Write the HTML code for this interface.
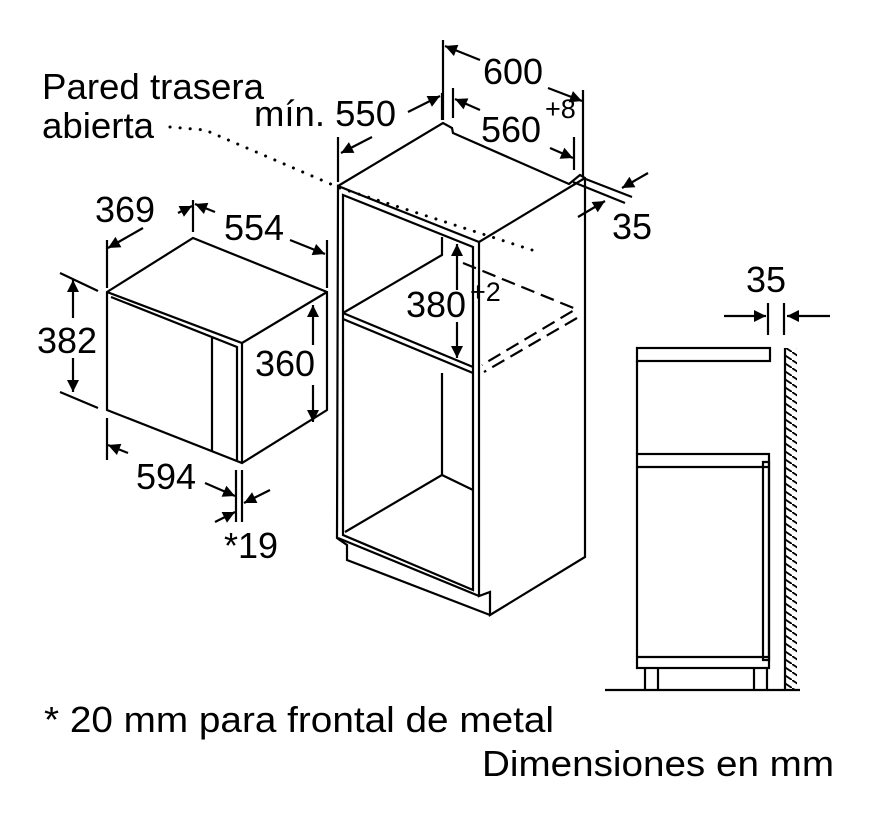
<!DOCTYPE html>
<html><head><meta charset="utf-8"><style>
html,body{margin:0;padding:0;background:#fff;}
svg{display:block;}
text{font-family:"Liberation Sans",Arial,sans-serif;fill:#000;}
</style></head><body>
<svg width="872" height="814" viewBox="0 0 872 814" xmlns="http://www.w3.org/2000/svg">
<defs>
<marker id="a" viewBox="0 0 10 10" refX="10" refY="5" markerWidth="13" markerHeight="12" markerUnits="userSpaceOnUse" orient="auto">
<path d="M0,0 L10,5 L0,10 z" fill="#000"/>
</marker>
<pattern id="h" width="12" height="8" patternUnits="userSpaceOnUse">
<path d="M0,0 L12,8" stroke="#000" stroke-width="1.8"/>
</pattern>
</defs>
<g fill="none" stroke="#000" stroke-width="2.2" stroke-linejoin="miter">
<!-- tall cabinet -->
<path d="M338,186 L443,123 L452,128 L453,133 L569,184 L580,175 L585,178 L585,557 L490,615 L490,592 L479,596 L479,242 L338,186 L337,538 L347,545 L347,560 L490,615"/>
<path d="M479,242 L585,178"/>
<path d="M343,195 L473,247 L473,590 L343,535 Z"/>
<path d="M343,313 L473,367 M343,319 L473,373"/>
<path d="M343,313 L442,255 L442,237"/>
<path d="M442,373 L442,475 L345,532 M442,475 L473,490"/>
<path d="M338,538 L479,596"/>
<path d="M463,263 L576,309 L482,365 M577,318 L484,372" stroke-dasharray="14,7"/>
<path d="M170,127 L205,130 L340,188 L532,250" stroke-width="3" stroke-dasharray="0.1,10" stroke-linecap="round"/>
<!-- top dims -->
<path d="M443,40 L443,120 M583,90 L583,177 M453,88 L453,118 M574,137 L574,170 M338,137 L338,182 M442,93 L442,120"/>
<path d="M583,178 L632,197 M573,182 L625,203"/>
<!-- microwave -->
<path d="M107,292 L193,238 L327,292 L327,410 L242,463 L107,410 Z M107,292 L242,343 L327,292 M242,343 L242,463"/>
<path d="M111,297 L237,347 L237,460 M212,337 L212,452"/>
<path d="M107,240 L107,288 M193,200 L193,232 M327,240 L327,288 M60,273 L98,291 M60,392 L98,408 M107,418 L107,460 M236,470 L236,522 M242,470 L242,522"/>
<!-- side view -->
<rect x="637" y="348" width="133" height="13"/>
<path d="M637,361 L637,454"/>
<rect x="637" y="454" width="132" height="214"/>
<path d="M637,467 L769,467 M637,657 L769,657 M763,462 L769,462 L769,660 L763,660 Z"/>
<path d="M645,668 L645,689 M658,668 L658,689 M754,668 L754,689 M767,668 L767,689"/>
<path d="M605,690 L800,690 M785,348 L785,690 M768,303 L768,335 M784,303 L784,335"/>
</g>
<g stroke="#000" stroke-width="2.2" marker-end="url(#a)">
<line x1="480" y1="60" x2="445" y2="46"/>
<line x1="548" y1="88" x2="582" y2="101"/>
<line x1="480" y1="110" x2="455" y2="99"/>
<line x1="550" y1="148" x2="573" y2="158"/>
<line x1="372" y1="137" x2="341" y2="153"/>
<line x1="408" y1="112" x2="440" y2="96"/>
<line x1="648" y1="173" x2="622" y2="188"/>
<line x1="578" y1="217" x2="605" y2="201"/>
<line x1="457" y1="290" x2="457" y2="244"/>
<line x1="457" y1="322" x2="457" y2="358"/>
<line x1="143" y1="228" x2="108" y2="248"/>
<line x1="178" y1="213" x2="192" y2="206"/>
<line x1="215" y1="212" x2="195" y2="204"/>
<line x1="290" y1="240" x2="325" y2="254"/>
<line x1="73" y1="318" x2="73" y2="280"/>
<line x1="73" y1="358" x2="73" y2="392"/>
<line x1="313" y1="345" x2="313" y2="305"/>
<line x1="313" y1="385" x2="313" y2="422"/>
<line x1="128" y1="453" x2="108" y2="445"/>
<line x1="205" y1="483" x2="235" y2="496"/>
<line x1="270" y1="490" x2="244" y2="503"/>
<line x1="215" y1="522" x2="235" y2="512"/>
<line x1="724" y1="316" x2="766" y2="316"/>
<line x1="830" y1="316" x2="787" y2="316"/>
</g>
<rect x="786" y="348" width="11" height="342" fill="url(#h)"/>
<g font-size="36">
<text x="42" y="99" textLength="222" lengthAdjust="spacingAndGlyphs">Pared trasera</text>
<text x="42" y="138" textLength="112" lengthAdjust="spacingAndGlyphs">abierta</text>
<text x="254" y="126" textLength="142" lengthAdjust="spacingAndGlyphs">mín. 550</text>
<text x="483" y="84">600</text>
<text x="481" y="142">560</text>
<text x="545" y="118" font-size="27">+8</text>
<text x="612" y="239">35</text>
<text x="406" y="317">380</text>
<text x="470" y="301" font-size="27">+2</text>
<text x="95" y="222">369</text>
<text x="224" y="240">554</text>
<text x="37" y="353">382</text>
<text x="255" y="376">360</text>
<text x="136" y="489">594</text>
<text x="224" y="558">*19</text>
<text x="746" y="292">35</text>
<text x="44" y="732" textLength="510" lengthAdjust="spacingAndGlyphs">* 20 mm para frontal de metal</text>
<text x="482" y="776" textLength="352" lengthAdjust="spacingAndGlyphs">Dimensiones en mm</text>
</g>
</svg>
</body></html>
